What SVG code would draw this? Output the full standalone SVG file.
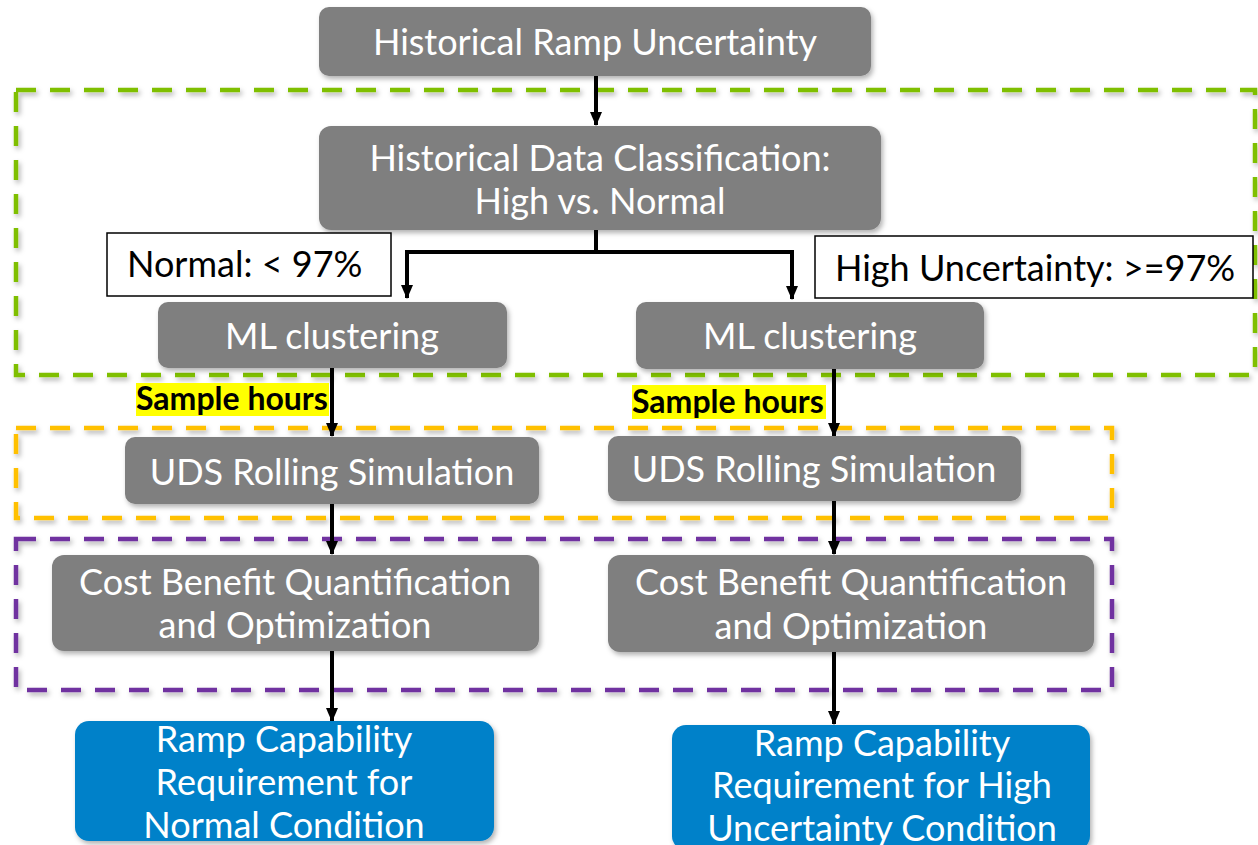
<svg xmlns="http://www.w3.org/2000/svg" width="1258" height="845" viewBox="0 0 1258 845">
<defs>
<filter id="sh" x="-10%" y="-10%" width="120%" height="130%">
<feDropShadow dx="2" dy="3" stdDeviation="2.5" flood-color="#000" flood-opacity="0.3"/>
</filter>
<marker id="ah" markerWidth="14" markerHeight="12" refX="13" refY="6" orient="auto" markerUnits="userSpaceOnUse" viewBox="0 0 14 12">
<path d="M0,0 L14,6 L0,12 Z" fill="#000"/>
</marker>
</defs>
<style>
.g{fill:#7f7f7f;filter:url(#sh)}
.b{fill:#0081c9;filter:url(#sh)}
.t{font-family:Lato,"Liberation Sans",sans-serif;font-size:36px;fill:#fff;text-anchor:middle}
.lbl{font-family:Lato,"Liberation Sans",sans-serif;font-size:36px;fill:#000}
.sh{font-family:Lato,"Liberation Sans",sans-serif;font-size:32px;font-weight:bold;fill:#000}
.d{fill:none;stroke-width:4.5;stroke-dasharray:20 14;filter:url(#sh)}
.c{fill:none;stroke:#000;stroke-width:4}
</style>
<rect width="1258" height="845" fill="#fff"/>

<g id="groups">
<rect class="d" x="16" y="90" width="1239" height="285" stroke="#7fbf00"/>
<rect class="d" x="16" y="428" width="1096" height="90" stroke="#ffc000"/>
<rect class="d" x="16" y="539" width="1096" height="151" stroke="#7030a0"/>
</g>

<g id="connectors">
<line class="c" x1="596" y1="76" x2="596" y2="125" marker-end="url(#ah)"/>
<polyline class="c" points="596,230 596,252 407,252 407,298" marker-end="url(#ah)"/>
<polyline class="c" points="596,252 792,252 792,299" marker-end="url(#ah)"/>
<line class="c" x1="332" y1="368" x2="332" y2="436" marker-end="url(#ah)"/>
<line class="c" x1="834" y1="369" x2="834" y2="436" marker-end="url(#ah)"/>
<line class="c" x1="332" y1="504" x2="332" y2="554" marker-end="url(#ah)"/>
<line class="c" x1="834" y1="501" x2="834" y2="554" marker-end="url(#ah)"/>
<line class="c" x1="332" y1="651" x2="332" y2="721" marker-end="url(#ah)"/>
<line class="c" x1="834" y1="652" x2="834" y2="724" marker-end="url(#ah)"/>
</g>

<g id="n-hru">
<rect class="g" x="319" y="7" width="552" height="69" rx="10"/>
<text class="t" x="595" y="55">Historical Ramp Uncertainty</text>
</g>
<g id="n-hdc">
<rect class="g" x="319" y="126" width="562" height="104" rx="12"/>
<text class="t" x="600" y="171">Historical Data Classification:</text>
<text class="t" x="600" y="214">High vs. Normal</text>
</g>
<g id="l-normal">
<rect x="107" y="233" width="284" height="63" fill="#fff" stroke="#000" stroke-width="1.5"/>
<text class="lbl" x="127" y="277">Normal: &lt; 97%</text>
</g>
<g id="l-high">
<rect x="815" y="236" width="438" height="62" fill="#fff" stroke="#000" stroke-width="1.5"/>
<text class="lbl" x="835" y="281">High Uncertainty: &gt;=97%</text>
</g>
<g id="n-ml-left">
<rect class="g" x="158" y="302" width="349" height="66" rx="10"/>
<text class="t" x="332" y="349">ML clustering</text>
</g>
<g id="n-ml-right">
<rect class="g" x="636" y="302" width="348" height="67" rx="10"/>
<text class="t" x="810" y="349">ML clustering</text>
</g>
<g id="l-sample-left">
<rect x="136" y="383" width="193" height="33" fill="#ffff00"/>
<text class="sh" x="136" y="410">Sample hours</text>
</g>
<g id="l-sample-right">
<rect x="632" y="385" width="194" height="34" fill="#ffff00"/>
<text class="sh" x="632" y="413">Sample hours</text>
</g>
<g id="n-uds-left">
<rect class="g" x="125" y="437" width="414" height="67" rx="10"/>
<text class="t" x="332" y="485">UDS Rolling Simulation</text>
</g>
<g id="n-uds-right">
<rect class="g" x="608" y="436" width="413" height="65" rx="10"/>
<text class="t" x="814" y="482">UDS Rolling Simulation</text>
</g>
<g id="n-cb-left">
<rect class="g" x="52" y="555" width="487" height="96" rx="12"/>
<text class="t" x="295" y="595">Cost Benefit Quantification</text>
<text class="t" x="295" y="638">and Optimization</text>
</g>
<g id="n-cb-right">
<rect class="g" x="608" y="555" width="486" height="97" rx="12"/>
<text class="t" x="851" y="595">Cost Benefit Quantification</text>
<text class="t" x="851" y="639">and Optimization</text>
</g>
<g id="n-rc-left">
<rect class="b" x="75" y="721" width="419" height="120" rx="14"/>
<text class="t" x="284" y="752">Ramp Capability</text>
<text class="t" x="284" y="795">Requirement for</text>
<text class="t" x="284" y="838">Normal Condition</text>
</g>
<g id="n-rc-right">
<rect class="b" x="672" y="725" width="418" height="125" rx="14"/>
<text class="t" x="882" y="756">Ramp Capability</text>
<text class="t" x="882" y="798">Requirement for High</text>
<text class="t" x="882" y="841">Uncertainty Condition</text>
</g>
</svg>
